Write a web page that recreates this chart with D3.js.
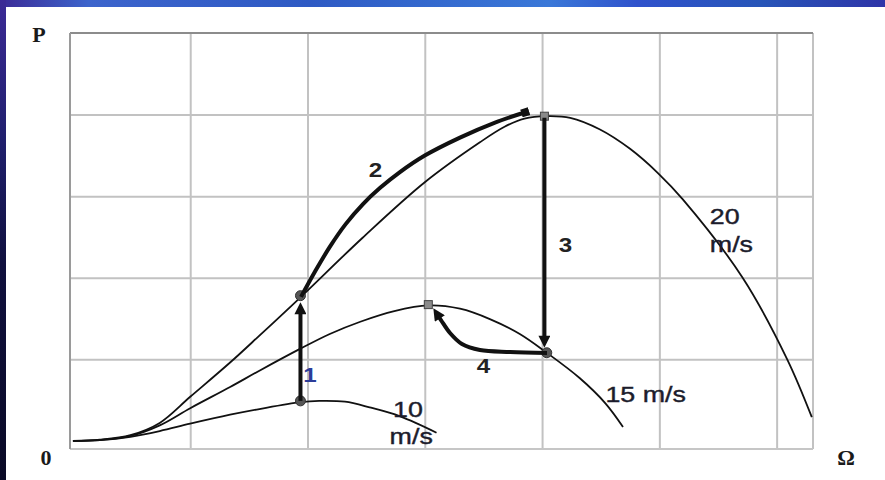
<!DOCTYPE html>
<html><head><meta charset="utf-8">
<script src="https://cdn.jsdelivr.net/npm/d3@7"></script>
<style>html,body{margin:0;padding:0;background:#fff;overflow:hidden}</style>
</head><body><svg id="chart" width="885" height="480"></svg>
<script>
// ---- data ----
const omegaTicks = [1, 2, 3, 4, 5, 6];
const powerTicks = [1, 2, 3, 4, 5];
const curveLabels = ["10", "m/s", "15 m/s", "20", "m/s"];
const stepLabels = ["1", "2", "3", "4"];

const omega10 = [0, 0.23, 0.49, 0.74, 1.0, 1.34, 1.59, 1.94, 2.1, 2.32, 2.53, 2.79, 3.1];
const power10 = [0, 0.01, 0.05, 0.12, 0.21, 0.32, 0.39, 0.475, 0.49, 0.48, 0.41, 0.3, 0.1];

const omega15 = [0, 0.23, 0.49, 0.74, 1.0, 1.34, 1.59, 1.94, 2.19, 2.45, 2.74, 3.03, 3.3, 3.56, 3.81, 4.04, 4.32, 4.54, 4.69];
const power15 = [0, 0.01, 0.06, 0.19, 0.4, 0.66, 0.86, 1.13, 1.31, 1.46, 1.59, 1.66, 1.62, 1.49, 1.31, 1.08, 0.77, 0.46, 0.17];

const omega20 = [0, 0.23, 0.49, 0.74, 1.0, 1.34, 1.59, 1.94, 2.47, 3.0, 3.47, 3.68, 3.85, 4.04, 4.24, 4.49, 4.75, 4.99, 5.2, 5.71, 6.09, 6.3];
const power20 = [0, 0.015, 0.07, 0.22, 0.54, 0.96, 1.29, 1.76, 2.49, 3.17, 3.66, 3.85, 3.95, 3.98, 3.96, 3.82, 3.58, 3.28, 2.96, 2.0, 1.0, 0.29];

const arrow1Omega = [1.94, 1.94];
const arrow1Power = [0.49, 1.64];
const arrow2Omega = [1.945, 2.063, 2.19, 2.327, 2.473, 2.617, 2.788, 3.0, 3.3, 3.599, 3.85];
const arrow2Power = [1.765, 2.072, 2.378, 2.66, 2.903, 3.099, 3.295, 3.498, 3.718, 3.902, 4.025];
const arrow3Omega = [4.02, 4.02];
const arrow3Power = [3.96, 1.2];
const arrow4Omega = [4.042, 3.727, 3.47, 3.317, 3.215, 3.138, 3.095];
const arrow4Power = [1.076, 1.089, 1.113, 1.187, 1.322, 1.481, 1.575];

const dotOmega = [1.94, 1.94, 4.04];
const dotPower = [0.49, 1.78, 1.08];
const squareOmega = [3.03, 4.02];
const squarePower = [1.67, 3.98];

// ---- drawing ----
const W = 885, H = 480;
const svg = d3.select("#chart");
const defs = svg.append("defs");

const gTop = defs.append("linearGradient").attr("id", "gTop").attr("x1", "0").attr("x2", "1").attr("y1", "0").attr("y2", "0");
[[0, "#3b2a96"], [0.1, "#3c64cc"], [0.35, "#2e5ac4"], [0.62, "#3a78d8"], [0.72, "#2f52cc"], [0.86, "#2755b8"], [1, "#2e34a8"]]
  .forEach(s => gTop.append("stop").attr("offset", s[0]).attr("stop-color", s[1]));
const gLeft = defs.append("linearGradient").attr("id", "gLeft").attr("x1", "0").attr("x2", "0").attr("y1", "0").attr("y2", "1");
[[0, "#3b2a96"], [0.3, "#1f1f6c"], [0.55, "#10103e"], [1, "#0a0a26"]]
  .forEach(s => gLeft.append("stop").attr("offset", s[0]).attr("stop-color", s[1]));

svg.append("rect").attr("width", W).attr("height", H).attr("fill", "#fff");
svg.append("rect").attr("x", 0).attr("y", 0).attr("width", W).attr("height", 7).attr("fill", "url(#gTop)");
svg.append("rect").attr("x", 0).attr("y", 0).attr("width", 6).attr("height", H).attr("fill", "url(#gLeft)");

const x = d3.scaleLinear().domain([-0.025, 6.31]).range([70, 813]);
const y = d3.scaleLinear().domain([-0.1, 5]).range([449, 33]);
const [x0, x1] = x.range();
const [y0, y1] = y.range();

// grid via axes
const gx = svg.append("g").attr("transform", `translate(0,${y0})`)
  .call(d3.axisBottom(x).tickValues(omegaTicks).tickSize(-(y0 - y1)).tickFormat(""));
gx.select(".domain").remove();
gx.selectAll("line").attr("stroke", "#c2c2c2").attr("stroke-width", 2);
const gy = svg.append("g").attr("transform", `translate(${x0},0)`)
  .call(d3.axisLeft(y).tickValues(powerTicks.slice(0, -1)).tickSize(-(x1 - x0)).tickFormat(""));
gy.select(".domain").remove();
gy.selectAll("line").attr("stroke", "#c2c2c2").attr("stroke-width", 2);

// frame
svg.append("line").attr("x1", x1).attr("x2", x1).attr("y1", y1).attr("y2", y0).attr("stroke", "#c2c2c2").attr("stroke-width", 2);
svg.append("line").attr("x1", x0).attr("x2", x1).attr("y1", y0).attr("y2", y0).attr("stroke", "#c6c6c6").attr("stroke-width", 2);
svg.append("line").attr("x1", x0).attr("x2", x1).attr("y1", y(powerTicks[powerTicks.length - 1])).attr("y2", y(powerTicks[powerTicks.length - 1])).attr("stroke", "#8c8c8c").attr("stroke-width", 2.2);
svg.append("line").attr("x1", x0).attr("x2", x0).attr("y1", y1).attr("y2", y0).attr("stroke", "#9a9a9a").attr("stroke-width", 2);

const line = d3.line().x(d => x(d[0])).y(d => y(d[1])).curve(d3.curveCatmullRom.alpha(0.5));
const zip = (a, b) => a.map((v, i) => [v, b[i]]);

// wind curves
[[omega10, power10], [omega15, power15], [omega20, power20]].forEach(([o, p]) => {
  svg.append("path").attr("d", line(zip(o, p))).attr("fill", "none").attr("stroke", "#111").attr("stroke-width", 1.8);
});

// arrow markers
defs.append("marker").attr("id", "ah").attr("viewBox", "0 -5 10 10")
  .attr("refX", 6).attr("refY", 0).attr("markerUnits", "userSpaceOnUse")
  .attr("markerWidth", 13).attr("markerHeight", 12).attr("orient", "auto")
  .append("path").attr("d", "M0,-5L10,0L0,5Z").attr("fill", "#111");
defs.append("marker").attr("id", "ah2").attr("viewBox", "0 -5 10 10")
  .attr("refX", 4).attr("refY", 0).attr("markerUnits", "userSpaceOnUse")
  .attr("markerWidth", 8).attr("markerHeight", 14).attr("orient", "auto")
  .append("path").attr("d", "M0,-5L10,-5L10,5L0,5Z").attr("fill", "#111");

// dots and squares
dotOmega.forEach((o, i) => {
  svg.append("circle").attr("cx", x(o)).attr("cy", y(dotPower[i])).attr("r", 5)
    .attr("fill", "#555").attr("stroke", "#333").attr("stroke-width", 1);
});
squareOmega.forEach((o, i) => {
  svg.append("rect").attr("x", x(o) - 4).attr("y", y(squarePower[i]) - 4).attr("width", 8).attr("height", 8)
    .attr("fill", "#8a8a8a").attr("stroke", "#444").attr("stroke-width", 1);
});

// step arrows
[[arrow1Omega, arrow1Power, "ah"], [arrow2Omega, arrow2Power, "ah2"], [arrow3Omega, arrow3Power, "ah"], [arrow4Omega, arrow4Power, "ah"]]
  .forEach(([o, p, m]) => {
    svg.append("path").attr("d", line(zip(o, p))).attr("fill", "none").attr("stroke", "#111")
      .attr("stroke-width", 4).attr("marker-end", `url(#${m})`);
  });

// curve labels
const labelFont = "'Liberation Sans', Arial, sans-serif";
const curveLabelPos = [[2.73, 0.29], [2.7, -0.04], [4.54, 0.48], [5.43, 2.66], [5.43, 2.32]];
curveLabels.forEach((t, i) => {
  const [o, p] = curveLabelPos[i];
  svg.append("text").attr("transform", `translate(${x(o)},${y(p)}) scale(1.22,1)`)
    .attr("font-family", labelFont).attr("font-size", 22).attr("fill", "#1c1c2c")
    .attr("stroke", "#1c1c2c").attr("stroke-width", 0.4).text(t);
});
const stepLabelPos = [[2.02, 0.72], [2.58, 3.24], [4.2, 2.32], [3.5, 0.83]];
stepLabels.forEach((t, i) => {
  const [o, p] = stepLabelPos[i];
  svg.append("text").attr("transform", `translate(${x(o)},${y(p)}) scale(1.15,1)`)
    .attr("text-anchor", "middle").attr("font-family", labelFont).attr("font-weight", "bold")
    .attr("font-size", 21).attr("fill", i === 0 ? "#2c3c98" : "#222").text(t);
});

// axis letters
const serif = "'Liberation Serif', 'Times New Roman', serif";
svg.append("text").attr("x", x0 - 31).attr("y", y1 + 9).attr("text-anchor", "middle")
  .attr("font-family", serif).attr("font-weight", "bold").attr("font-size", 22).attr("fill", "#1a1a1a").text("P");
svg.append("text").attr("x", x0 - 24).attr("y", y0 + 16).attr("text-anchor", "middle")
  .attr("font-family", serif).attr("font-weight", "bold").attr("font-size", 22).attr("fill", "#1a1a1a").text("0");
svg.append("text").attr("x", x1 + 33).attr("y", y0 + 16).attr("text-anchor", "middle")
  .attr("font-family", serif).attr("font-weight", "bold").attr("font-size", 22).attr("fill", "#1a1a1a").text("Ω");
</script></body></html>
